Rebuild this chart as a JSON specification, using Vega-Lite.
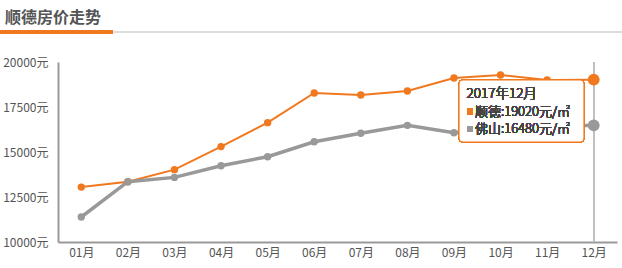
{
  "$schema": "https://vega.github.io/schema/vega-lite/v6.json",
  "width": 559,
  "height": 180,
  "autosize": {"type": "none"},
  "padding": {"left": 58, "top": 62, "right": 5, "bottom": 26},
  "background": "white",
  "config": {
    "view": {"stroke": null},
    "font": "Noto Sans CJK SC",
    "axis": {"labelFont": "Noto Sans CJK SC", "labelColor": "#555", "labelFontSize": 12}
  },
  "title": {
    "text": "顺德房价走势",
    "anchor": "start",
    "frame": "group",
    "dx": -53,
    "offset": 4,
    "fontSize": 16,
    "fontWeight": "bold",
    "color": "#555",
    "font": "Noto Sans CJK SC"
  },
  "data": {
    "values": [
      {"month": 1, "city": "顺德", "price": 13050},
      {"month": 2, "city": "顺德", "price": 13350},
      {"month": 3, "city": "顺德", "price": 14020},
      {"month": 4, "city": "顺德", "price": 15300},
      {"month": 5, "city": "顺德", "price": 16630},
      {"month": 6, "city": "顺德", "price": 18280},
      {"month": 7, "city": "顺德", "price": 18170},
      {"month": 8, "city": "顺德", "price": 18390},
      {"month": 9, "city": "顺德", "price": 19110},
      {"month": 10, "city": "顺德", "price": 19280},
      {"month": 11, "city": "顺德", "price": 19000},
      {"month": 12, "city": "顺德", "price": 19020},
      {"month": 1, "city": "佛山", "price": 11390},
      {"month": 2, "city": "佛山", "price": 13350},
      {"month": 3, "city": "佛山", "price": 13590},
      {"month": 4, "city": "佛山", "price": 14240},
      {"month": 5, "city": "佛山", "price": 14740},
      {"month": 6, "city": "佛山", "price": 15570},
      {"month": 7, "city": "佛山", "price": 16040},
      {"month": 8, "city": "佛山", "price": 16480},
      {"month": 9, "city": "佛山", "price": 16070},
      {"month": 10, "city": "佛山", "price": 16300},
      {"month": 11, "city": "佛山", "price": 16400},
      {"month": 12, "city": "佛山", "price": 16480}
    ]
  },
  "layer": [
    {
      "mark": {"type": "rule", "color": "#ddd", "strokeWidth": 2},
      "encoding": {
        "x": {"datum": -0.75, "type": "quantitative"},
        "x2": {"datum": 12.62},
        "y": {"datum": 21667, "type": "quantitative"}
      }
    },
    {
      "mark": {"type": "rule", "color": "#f0781e", "strokeWidth": 3},
      "encoding": {
        "x": {"datum": -0.75, "type": "quantitative"},
        "x2": {"datum": 1.68},
        "y": {"datum": 21667, "type": "quantitative"}
      }
    },
    {
      "mark": {"type": "rule", "color": "#c0c0c0", "strokeWidth": 1},
      "encoding": {
        "x": {"datum": 12, "type": "quantitative"},
        "y": {"datum": 10000, "type": "quantitative"},
        "y2": {"datum": 20000}
      }
    },
    {
      "mark": {"type": "line"},
      "encoding": {
        "x": {
          "field": "month",
          "type": "quantitative",
          "scale": {"domain": [0.5, 12.5], "nice": false, "zero": false},
          "axis": {
            "title": null,
            "values": [1, 2, 3, 4, 5, 6, 7, 8, 9, 10, 11, 12],
            "labelExpr": "(datum.value < 10 ? '0' : '') + datum.value + '月'",
            "grid": false,
            "ticks": false,
            "domainColor": "#999",
            "domainWidth": 2,
            "labelPadding": 5
          }
        },
        "y": {
          "field": "price",
          "type": "quantitative",
          "scale": {"domain": [10000, 20000], "nice": false, "zero": false},
          "axis": {
            "title": null,
            "values": [10000, 12500, 15000, 17500, 20000],
            "labelExpr": "datum.value + '元'",
            "ticks": false,
            "gridColor": "#ddd",
            "domainColor": "#999",
            "domainWidth": 2,
            "labelPadding": 10
          }
        },
        "color": {
          "field": "city",
          "type": "nominal",
          "scale": {"domain": ["顺德", "佛山"], "range": ["#f0781e", "#999999"]},
          "legend": null
        },
        "strokeWidth": {
          "field": "city",
          "type": "nominal",
          "scale": {"domain": ["顺德", "佛山"], "range": [2, 3.5]},
          "legend": null
        }
      }
    },
    {
      "mark": {"type": "point", "filled": true, "opacity": 1, "size": 55},
      "encoding": {
        "x": {"field": "month", "type": "quantitative"},
        "y": {"field": "price", "type": "quantitative"},
        "color": {"field": "city", "type": "nominal", "legend": null}
      }
    },
    {
      "transform": [{"filter": "datum.month == 12"}],
      "mark": {"type": "point", "filled": true, "opacity": 1, "size": 140},
      "encoding": {
        "x": {"field": "month", "type": "quantitative"},
        "y": {"field": "price", "type": "quantitative"},
        "color": {"field": "city", "type": "nominal", "legend": null}
      }
    },
    {
      "mark": {"type": "rect", "fill": "white", "fillOpacity": 0.92, "stroke": "#f0781e", "strokeWidth": 1.2, "cornerRadius": 4},
      "encoding": {
        "x": {"datum": 9.108, "type": "quantitative"},
        "x2": {"datum": 11.792},
        "y": {"datum": 19000, "type": "quantitative"},
        "y2": {"datum": 15556}
      }
    },
    {
      "mark": {"type": "text", "align": "left", "baseline": "middle", "fontSize": 13.5, "fontWeight": 300, "fill": "#444", "font": "Noto Sans CJK SC"},
      "encoding": {
        "x": {"datum": 9.27, "type": "quantitative"},
        "y": {"datum": 18222, "type": "quantitative"},
        "text": {"value": "2017年12月"}
      }
    },
    {
      "mark": {"type": "square", "filled": true, "opacity": 1, "size": 36, "fill": "#f0781e"},
      "encoding": {
        "x": {"datum": 9.345, "type": "quantitative"},
        "y": {"datum": 17239, "type": "quantitative"}
      }
    },
    {
      "mark": {"type": "square", "filled": true, "opacity": 1, "size": 36, "fill": "#999999"},
      "encoding": {
        "x": {"datum": 9.345, "type": "quantitative"},
        "y": {"datum": 16278, "type": "quantitative"}
      }
    },
    {
      "mark": {"type": "text", "align": "left", "baseline": "middle", "fontSize": 13, "fontWeight": 300, "fill": "#444", "font": "Noto Sans CJK SC"},
      "encoding": {
        "x": {"datum": 9.45, "type": "quantitative"},
        "y": {"datum": 17239, "type": "quantitative"},
        "text": {"value": "顺德:19020元/㎡"}
      }
    },
    {
      "mark": {"type": "text", "align": "left", "baseline": "middle", "fontSize": 13, "fontWeight": 300, "fill": "#444", "font": "Noto Sans CJK SC"},
      "encoding": {
        "x": {"datum": 9.45, "type": "quantitative"},
        "y": {"datum": 16278, "type": "quantitative"},
        "text": {"value": "佛山:16480元/㎡"}
      }
    }
  ]
}
